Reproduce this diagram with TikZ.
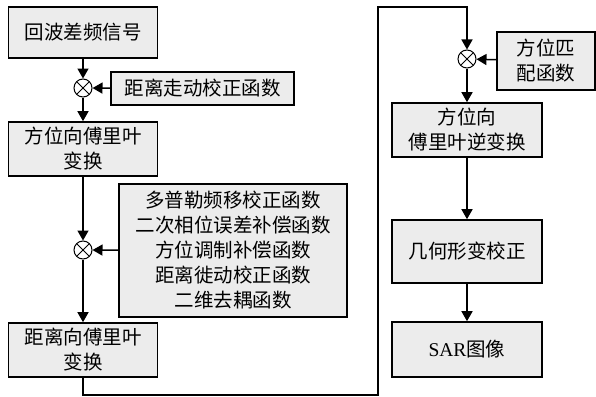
\documentclass[tikz,border=0pt]{standalone}
\usepackage{fontspec}
\setmainfont{Liberation Serif}
\newfontfamily\cjk{Noto Sans CJK SC}
\usetikzlibrary{arrows.meta}
\begin{document}
\begin{tikzpicture}[x=1pt,y=-1pt,
  box/.style={draw, line width=1.6pt, fill=gray!15, align=center, inner sep=0pt,
    font=\fontsize{19.5}{25}\selectfont\cjk},
  mult/.style={draw, circle, line width=1pt, fill=white, minimum size=18pt, inner sep=0pt,
    path picture={\draw[line width=1pt] (path picture bounding box.north west) -- (path picture bounding box.south east)
      (path picture bounding box.north east) -- (path picture bounding box.south west);}},
  arr/.style={line width=1.5pt, -{Triangle[length=10pt,width=11pt]}},
  ln/.style={line width=1.5pt}]
\useasboundingbox (0,0) rectangle (596,396);
\node[box, minimum width=149pt, minimum height=51pt] (b1) at (83,32.5) {回波差频信号};
\node[mult] (m1) at (83,88) {};
\node[box, minimum width=183pt, minimum height=33pt] (c1) at (202.5,88.5) {距离走动校正函数};
\node[box, minimum width=149pt, minimum height=54pt] (b2) at (83,149) {方位向傅里叶\\变换};
\node[mult] (m2) at (83,250) {};
\node[box, minimum width=228pt, minimum height=133pt] (c2) at (233,250.5) {多普勒频移校正函数\\二次相位误差补偿函数\\方位调制补偿函数\\距离徙动校正函数\\二维去耦函数};
\node[box, minimum width=149pt, minimum height=54pt] (b3) at (83,350) {距离向傅里叶\\变换};
\node[mult] (m3) at (467,59) {};
\node[box, minimum width=98pt, minimum height=58pt] (c3) at (546,61) {方位匹\\配函数};
\node[box, minimum width=150pt, minimum height=54pt] (b4) at (467,130) {方位向\\傅里叶逆变换};
\node[box, minimum width=150pt, minimum height=63pt] (b5) at (467,251.5) {几何形变校正};
\node[box, minimum width=150pt, minimum height=55pt, font=\fontsize{19.5}{25}\selectfont] (b6) at (467,349.5) {SAR{\cjk 图像}};
\coordinate (p1) at (83,395);
\coordinate (p2) at (378,395);
\coordinate (p3) at (378,7);
\coordinate (p4) at (467,7);
\draw[arr] (b1) -- (m1);
\draw[arr] (c1) -- (m1);
\draw[arr] (m1) -- (b2);
\draw[arr] (b2) -- (m2);
\draw[arr] (c2) -- (m2);
\draw[arr] (m2) -- (b3);
\draw[arr] (b3.south) -- (p1) -- (p2) -- (p3) -- (p4) -- (m3);
\draw[arr] (c3) -- (m3);
\draw[arr] (m3) -- (b4);
\draw[arr] (b4) -- (b5);
\draw[arr] (b5) -- (b6);
\end{tikzpicture}
\end{document}
